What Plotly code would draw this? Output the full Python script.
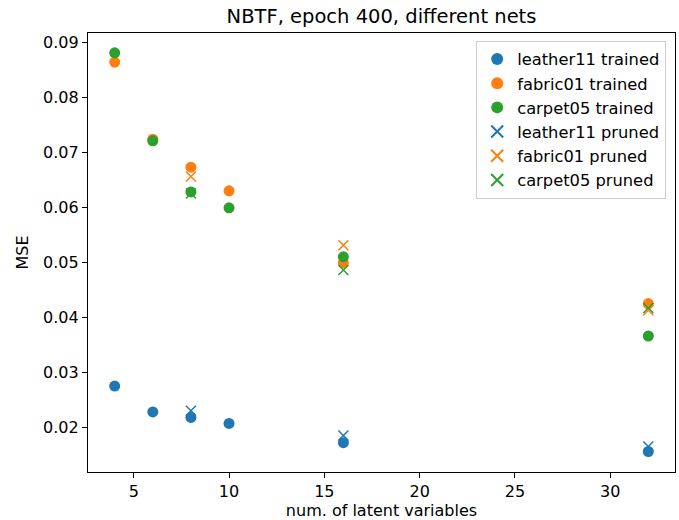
import plotly.graph_objects as go

# Mean squared error per net, by number of latent variables
latent_trained = [4, 6, 8, 10, 16, 32]
leather11_trained = [0.0275, 0.0228, 0.0218, 0.0207, 0.0172, 0.0156]
fabric01_trained = [0.0864, 0.0724, 0.0673, 0.0630, 0.0499, 0.0425]
carpet05_trained = [0.0881, 0.0721, 0.0628, 0.0599, 0.0510, 0.0366]

latent_pruned = [8, 16, 32]
leather11_pruned = [0.0230, 0.0185, 0.0165]
fabric01_pruned = [0.0656, 0.0531, 0.0413]
carpet05_pruned = [0.0625, 0.0486, 0.0417]

x_ticks = [5, 10, 15, 20, 25, 30]
y_ticks = [0.02, 0.03, 0.04, 0.05, 0.06, 0.07, 0.08, 0.09]

BLUE, ORANGE, GREEN = "#1f77b4", "#ff7f0e", "#2ca02c"

fig = go.Figure()

trained = [
    ("leather11 trained", leather11_trained, BLUE),
    ("fabric01 trained", fabric01_trained, ORANGE),
    ("carpet05 trained", carpet05_trained, GREEN),
]
pruned = [
    ("leather11 pruned", leather11_pruned, BLUE),
    ("fabric01 pruned", fabric01_pruned, ORANGE),
    ("carpet05 pruned", carpet05_pruned, GREEN),
]

for name, vals, col in trained:
    fig.add_trace(go.Scatter(
        x=latent_trained, y=vals, mode="markers", name=name,
        marker=dict(symbol="circle", size=11, color=col, line=dict(width=0)),
    ))
for name, vals, col in pruned:
    fig.add_trace(go.Scatter(
        x=latent_pruned, y=vals, mode="markers", name=name,
        marker=dict(symbol="x-thin", size=10, color=col,
                    line=dict(width=1.5, color=col)),
    ))

font = "DejaVu Sans"
axis_common = dict(
    showline=True, linecolor="black", linewidth=1.3, mirror=True,
    ticks="outside", ticklen=5, tickwidth=1.2, tickcolor="black",
    showgrid=False, zeroline=False,
    tickfont=dict(family=font, size=16, color="black"),
)

fig.update_layout(
    width=679, height=520,
    margin=dict(l=88, r=4, t=33, b=48),
    paper_bgcolor="white", plot_bgcolor="white",
    title=dict(text="NBTF, epoch 400, different nets", x=0.5, xanchor="center",
               y=1 - 16 / 520, yanchor="middle",
               xref="paper",
               font=dict(family=font, size=19.5, color="black")),
    xaxis=dict(range=[2.6, 33.4], tickvals=x_ticks,
               title=dict(text="num. of latent variables", standoff=2,
                          font=dict(family=font, size=16, color="black")),
               **axis_common),
    yaxis=dict(range=[0.01187, 0.0917], tickvals=y_ticks,
               tickformat=".2f",
               title=dict(text="MSE", standoff=10,
                          font=dict(family=font, size=16, color="black")),
               **axis_common),
    legend=dict(x=0.985, y=0.982, xanchor="right", yanchor="top",
                bgcolor="white", bordercolor="#cccccc", borderwidth=1,
                font=dict(family=font, size=16.3, color="black"),
                itemsizing="constant", tracegroupgap=0),
    showlegend=True,
)

fig.write_html("out.html")
